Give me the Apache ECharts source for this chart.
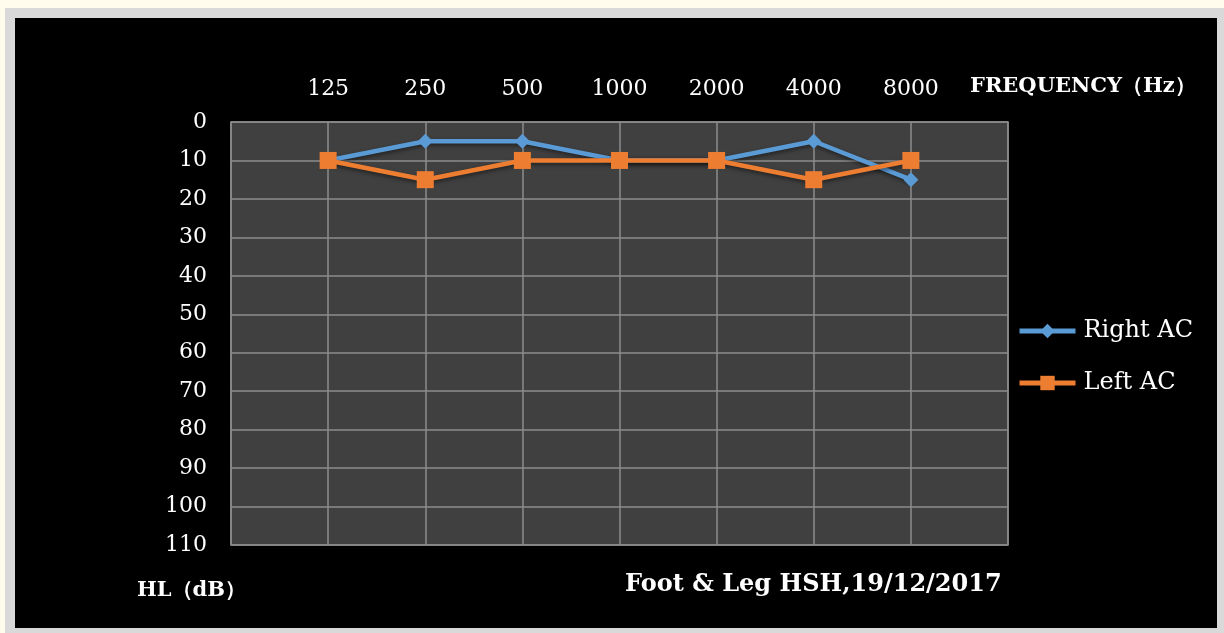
<!DOCTYPE html>
<html>
<head>
<meta charset="utf-8">
<title>Audiogram</title>
<script src="https://cdn.jsdelivr.net/npm/echarts@6/dist/echarts.min.js"></script>
<style>
  html, body { margin: 0; padding: 0; background: #fffcee; width: 1224px; height: 633px; overflow: hidden; }
  #frame { position: absolute; left: 5px; top: 8px; width: 1219px; height: 625px; background: #d9d9d9; }
  #chart { position: absolute; left: 15px; top: 18px; width: 1202px; height: 610px; background: #000; }
</style>
</head>
<body>
<div id="frame"></div>
<div id="chart"></div>
<script>
// Test frequencies (Hz) along the top axis
const frequencies = ['125', '250', '500', '1000', '2000', '4000', '8000'];
// Hearing levels (dB HL), air conduction
const rightAC = [10, 5, 5, 10, 10, 5, 15];
const leftAC = [10, 15, 10, 10, 10, 15, 10];
// Hearing-level tick range
const levelMin = 0, levelMax = 110, levelStep = 10;

const serif = '"DejaVu Serif", "Liberation Serif", serif';
const toPoints = arr => arr.map((v, i) => [i + 1, v]);
const blue = '#5b9bd5', orange = '#ed7d31';

const chart = echarts.init(document.getElementById('chart'), null, { renderer: 'canvas' });
chart.setOption({
  backgroundColor: '#000000',
  animation: false,
  textStyle: { fontFamily: serif },
  grid: {
    left: 216, right: 209, top: 104, bottom: 83,
    show: true, backgroundColor: '#404040', borderColor: '#8c8c8c', borderWidth: 1.5
  },
  xAxis: {
    type: 'value', position: 'top',
    min: 0, max: frequencies.length + 1, interval: 1,
    axisLine: { show: false }, axisTick: { show: false },
    splitLine: { show: true, lineStyle: { color: '#8c8c8c', width: 1.5 } },
    axisLabel: {
      color: '#ffffff', fontSize: 22, fontFamily: serif, margin: 22,
      formatter: v => frequencies[v - 1] || ''
    }
  },
  yAxis: {
    type: 'value', inverse: true,
    min: levelMin, max: levelMax, interval: levelStep,
    axisLine: { show: false }, axisTick: { show: false },
    splitLine: { show: true, lineStyle: { color: '#8c8c8c', width: 1.5 } },
    axisLabel: { color: '#ffffff', fontSize: 22, fontFamily: serif, margin: 24, padding: [4, 0, 0, 0] }
  },
  legend: {
    orient: 'vertical', left: 1002, top: 301, padding: 0,
    itemWidth: 56, itemHeight: 18, itemGap: 28,
    textStyle: { color: '#ffffff', fontSize: 24, fontFamily: serif, padding: [0, 0, 0, 3] },
    data: [
      { name: 'Right AC', lineStyle: { color: blue, width: 5 } },
      { name: 'Left AC', lineStyle: { color: orange, width: 5 } }
    ]
  },
  series: [
    {
      name: 'Right AC', type: 'line', data: toPoints(rightAC),
      symbol: 'diamond', symbolSize: 15,
      itemStyle: { color: blue },
      lineStyle: { color: blue, width: 4.5, shadowColor: 'rgba(0,0,0,0.5)', shadowBlur: 4, shadowOffsetY: 2 },
      z: 2
    },
    {
      name: 'Left AC', type: 'line', data: toPoints(leftAC),
      symbol: 'rect', symbolSize: 17,
      itemStyle: { color: orange },
      lineStyle: { color: orange, width: 4.5, shadowColor: 'rgba(0,0,0,0.5)', shadowBlur: 4, shadowOffsetY: 2 },
      z: 3
    }
  ],
  graphic: [
    {
      type: 'text', left: 955, top: 58,
      style: { text: 'FREQUENCY（Hz）', fill: '#ffffff', font: 'bold 21px ' + serif }
    },
    {
      type: 'text', left: 122, top: 562,
      style: { text: 'HL（dB）', fill: '#ffffff', font: 'bold 21px ' + serif }
    },
    {
      type: 'text', left: 610, top: 555,
      style: { text: 'Foot & Leg HSH,19/12/2017', fill: '#ffffff', font: 'bold 24px ' + serif }
    }
  ]
});
</script>
</body>
</html>
